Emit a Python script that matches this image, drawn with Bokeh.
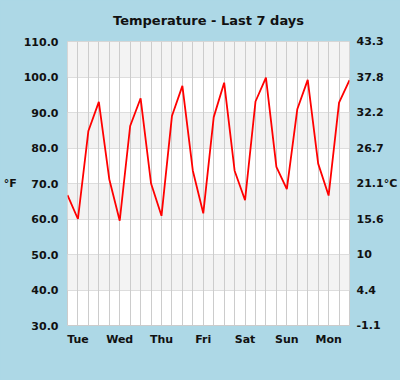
from bokeh.plotting import figure
from bokeh.models import FixedTicker, ColumnDataSource, LinearAxis
from bokeh.embed import file_html
from bokeh.resources import INLINE

# Data: temperature every 6 hours, starting Monday 18:00
hours = list(range(0, 28 * 6, 6))
temps_f = [66.7, 60.0, 84.8, 93.0, 71.2, 59.5, 86.2, 94.0, 70.0, 60.9,
           89.0, 97.5, 73.6, 61.6, 88.7, 98.4, 73.6, 65.3, 93.1, 99.8,
           74.7, 68.4, 90.9, 99.2, 75.6, 66.6, 92.8, 99.1]

days = ["Tue", "Wed", "Thu", "Fri", "Sat", "Sun", "Mon"]
day_ticks = [6, 30, 54, 78, 102, 126, 150]
f_ticks = [30, 40, 50, 60, 70, 80, 90, 100, 110]
f_labels = ["30.0", "40.0", "50.0", "60.0", "70.0", "80.0", "90.0", "100.0", "110.0"]
c_labels = ["-1.1", "4.4", "10", "15.6", "21.1°C", "26.7", "32.2", "37.8", "43.3"]

BG = "#ADD8E6"
FONT = "DejaVu Sans"

p = figure(width=400, height=380, output_backend="svg", toolbar_location=None,
           x_range=(0, 162), y_range=(30, 110),
           title="Temperature - Last 7 days",
           min_border_left=66, min_border_right=50, min_border_top=40,
           min_border_bottom=55)
p.background_fill_color = "white"
p.border_fill_color = BG
p.outline_line_color = "#cccccc"

p.title.align = "center"
p.title.vertical_align = "top"
p.title.text_font = FONT
p.title.text_font_size = "13px"
p.title.text_font_style = "bold"
p.title.text_color = "#111111"
p.title.standoff = 24

src = ColumnDataSource(dict(x=hours, y=temps_f))
p.line("x", "y", source=src, line_color="red", line_width=1.8)

p.xaxis.ticker = FixedTicker(ticks=day_ticks)
p.xaxis.major_label_overrides = {t: d for t, d in zip(day_ticks, days)}
p.yaxis.ticker = FixedTicker(ticks=f_ticks)
p.yaxis.major_label_overrides = {t: l for t, l in zip(f_ticks, f_labels)}
p.yaxis.axis_label = "°F"
p.yaxis.axis_label_orientation = "horizontal"

ra = LinearAxis(ticker=FixedTicker(ticks=f_ticks),
                major_label_overrides={t: l for t, l in zip(f_ticks, c_labels)})
p.add_layout(ra, "right")

for ax in p.axis:
    ax.axis_line_color = None
    ax.major_tick_line_color = None
    ax.minor_tick_line_color = None
    ax.major_tick_out = 0
    ax.major_tick_in = 0
    ax.minor_tick_out = 0
    ax.minor_tick_in = 0
    ax.major_label_text_font = FONT
    ax.major_label_text_font_size = "11px"
    ax.major_label_text_font_style = "bold"
    ax.major_label_text_color = "#111111"
    ax.axis_label_text_font = FONT
    ax.axis_label_text_font_size = "11px"
    ax.axis_label_text_font_style = "bold"
    ax.axis_label_text_color = "#111111"
    ax.axis_label_standoff = 4
p.yaxis.major_label_standoff = 9
ra.major_label_standoff = 7
p.xaxis.major_label_standoff = 7

p.xgrid.ticker = FixedTicker(ticks=list(range(0, 163, 6)))
p.xgrid.grid_line_color = "#cccccc"
p.ygrid.ticker = FixedTicker(ticks=f_ticks[1:])
p.ygrid.grid_line_color = "#dddddd"
p.ygrid.band_fill_color = "#f3f3f3"
p.ygrid.band_fill_alpha = 1.0
p.ygrid.level = "image"

html = file_html(p, INLINE)
html = html.replace("</head>", "<style>html,body{margin:0;padding:0;background:#ADD8E6;}</style></head>", 1)
open("out.html", "w").write(html)
